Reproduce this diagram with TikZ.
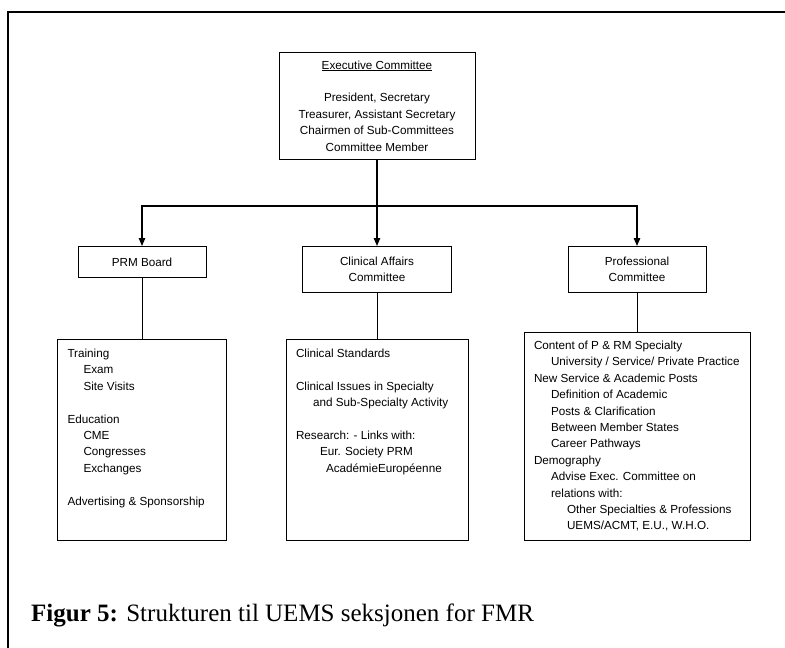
\documentclass[tikz,border=0pt]{standalone}
\usepackage{fontspec}
\setmainfont{Liberation Sans}
\newfontfamily\capfont{Liberation Serif}
\usetikzlibrary{arrows.meta}

\newcommand\boxfont{\fontsize{11.7pt}{16.4pt}\selectfont}
% fixed-size, top-aligned text block: height, width, top gap, text
\newcommand\listtext[4]{\parbox[c][#1][t]{#2}{\raggedright\leftskip=10pt\parindent=0pt\vspace*{#3}\strut #4}}
\newcommand\ind[1]{\hspace*{#1}}

\tikzset{
  every node/.style={font=\boxfont},
  headbox/.style={draw, line width=0.9pt, anchor=north, align=center,
    minimum width=196pt, minimum height=107pt, inner sep=0pt},
  midbox/.style={draw, line width=0.9pt, anchor=north, align=center, inner sep=0pt},
  listbox/.style={draw, line width=0.9pt, anchor=north, inner sep=0pt},
  feed/.style={line width=1.3pt, -{Triangle[length=8pt,width=6.5pt]}},
  stem/.style={line width=0.9pt},
  frame/.style={line width=2pt},
}

\begin{document}
\begin{tikzpicture}[x=1pt, y=-1pt]
\useasboundingbox (0,0) rectangle (785,648);

% page frame (left and top edges)
\draw[frame] (8,648) -- (8,12) -- (785,12);

% executive committee
\node[headbox] (exec) at (377,52) {\underline{Executive Committee}\\[16.4pt]
  President, Secretary\\ Treasurer, Assistant Secretary\\
  Chairmen of Sub-Committees\\ Committee Member};

% sub-committees
\node[midbox, minimum width=128pt, minimum height=31pt] (prm) at (142,246) {PRM Board};
\node[midbox, minimum width=149pt, minimum height=46pt] (clin) at (377,246) {Clinical Affairs\\ Committee};
\node[midbox, minimum width=138pt, minimum height=46pt] (prof) at (637,246) {Professional\\ Committee};

% remits
\node[listbox] (prmlist) at (142,339) {\listtext{201pt}{169pt}{6.5pt}{%
  Training\\ \ind{16pt}Exam\\ \ind{16pt}Site Visits\\[16.4pt]
  Education\\ \ind{16pt}CME\\ \ind{16pt}Congresses\\ \ind{16pt}Exchanges\\[16.4pt]
  Advertising \& Sponsorship}};

\node[listbox] (clinlist) at (377,339) {\listtext{201pt}{182pt}{6.5pt}{%
  Clinical Standards\\[16.4pt]
  Clinical Issues in Specialty\\ \ind{17pt}and Sub-Specialty Activity\\[16.4pt]
  Research: - Links with:\\ \ind{24pt}Eur. Society PRM\\ \ind{30pt}AcadémieEuropéenne}};

\node[listbox] (proflist) at (637,332) {\listtext{208pt}{226pt}{5.5pt}{%
  Content of P \& RM Specialty\\ \ind{17pt}University / Service/ Private Practice\\
  New Service \& Academic Posts\\ \ind{17pt}Definition of Academic\\
  \ind{17pt}Posts \& Clarification\\ \ind{17pt}Between Member States\\
  \ind{17pt}Career Pathways\\ Demography\\ \ind{17pt}Advise Exec. Committee on\\
  \ind{17pt}relations with:\\ \ind{33pt}Other Specialties \& Professions\\
  \ind{33pt}UEMS/ACMT, E.U., W.H.O.}};

% connectors
\coordinate (bus) at (377,206);
\draw[line width=1.3pt] (exec.south) -- (bus);
\draw[feed] (bus) -| (prm.north);
\draw[feed] (bus) -- (clin.north);
\draw[feed] (bus) -| (prof.north);

\draw[stem] (prm.south) -- (prmlist.north);
\draw[stem] (clin.south) -- (clinlist.north);
\draw[stem] (prof.south) -- (proflist.north);

% caption
\node[anchor=base west, inner sep=0pt, font=\capfont\fontsize{25pt}{30pt}\selectfont] (caption) at (31,621)
  {\textbf{Figur 5:} Strukturen til UEMS seksjonen for FMR};
\end{tikzpicture}
\end{document}
